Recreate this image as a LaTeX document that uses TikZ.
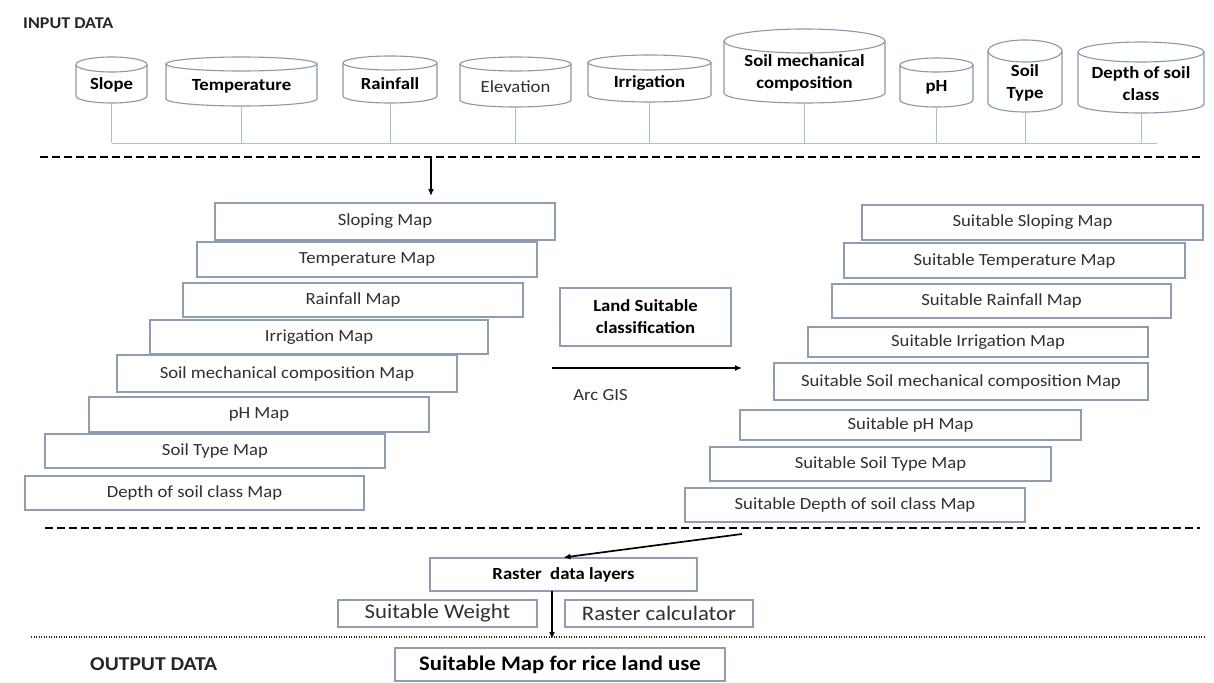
\documentclass[tikz,border=0pt]{standalone}
\usepackage{fontspec}
\setmainfont{Carlito}[FakeStretch=1.1]
\usetikzlibrary{arrows.meta}
\definecolor{boxc}{HTML}{8E9DB2}
\definecolor{cylc}{HTML}{8A98AA}
\definecolor{busc}{HTML}{A8C0DA}
\definecolor{txtc}{HTML}{303030}
\newcommand\fsreg{\fontsize{17}{22}\selectfont}
\newcommand\fsbig{\fontsize{20.7}{24}\selectfont}
\tikzset{
  mapbox/.style={draw=boxc, line width=1.1pt, inner sep=0pt, text=txtc, font=\fsreg},
  boldbox/.style={draw=boxc, line width=1.1pt, inner sep=0pt, text=black, font=\fsreg\bfseries, align=center},
  cylout/.style={draw=cylc, line width=1.1pt},
  cyltxt/.style={text=black, font=\fsreg\bfseries, align=center, inner sep=0pt},
  bus/.style={draw=busc, line width=1pt},
  dashline/.style={draw=black, line width=2.6pt, dash pattern=on 8pt off 4pt},
  dotline/.style={draw=black!85, line width=2.6pt, dash pattern=on 1.2pt off 1.3pt},
  arr/.style={draw=black, line width=1.7pt, -{Latex[length=7pt,width=6pt]}},
  plain/.style={inner sep=0pt}
}
% name, xl, xr, ytop, ybot, ry top, ry bottom, text, text style
\newcommand\cylnode[9]{%
  \pgfmathsetmacro\cxm{(#2+#3)/2}%
  \pgfmathsetmacro\rxm{(#3-#2)/2}%
  \pgfmathsetmacro\cym{(#4+#5)/2}%
  \pgfmathsetmacro\wdm{#3-#2}%
  \pgfmathsetmacro\htm{#5-#4}%
  \pgfmathsetmacro\tym{(#4+#6+#5)/2+1}%
  \node[plain, minimum width=\wdm pt, minimum height=\htm pt] (#1) at (\cxm,\cym) {};
  \draw[cylout] (\cxm,#4+#6) ellipse [x radius=\rxm pt, y radius=#6pt];
  \draw[cylout] (#2,#4+#6) -- (#2,#5-#7) arc [start angle=180, end angle=360, x radius=\rxm pt, y radius=#7pt] -- (#3,#4+#6);
  \node[cyltxt, #9] (#1-t) at (\cxm,\tym) {#8};
}
\begin{document}
\begin{tikzpicture}[x=1pt,y=-1pt]
\useasboundingbox[fill=white] (0,0) rectangle (1214,682);

% titles
\node[plain, anchor=west, font=\fontsize{16.4}{19}\selectfont\bfseries, text=black!85] (inp) at (23,23) {INPUT DATA};
\node[plain, anchor=west, font=\fontsize{19.6}{23}\selectfont\bfseries, text=black!85] (outp) at (90,664) {OUTPUT DATA};

% cylinders
\cylnode{slope}{76}{147}{57}{103}{7.5}{7}{Slope}{}
\cylnode{temp}{166}{317}{57}{106}{7}{7}{Temperature}{}
\cylnode{rain}{343}{437}{56}{103}{7}{7}{Rainfall}{}
\cylnode{elev}{460}{571}{57}{107}{7}{7}{Elevation}{font=\fsreg, text=txtc}
\cylnode{irr}{588}{711}{55}{102}{7.5}{7}{Irrigation}{}
\cylnode{smc}{724}{885}{29}{103}{12}{10}{Soil mechanical\\composition}{}
\cylnode{ph}{900}{973}{58}{107}{7}{7}{pH}{}
\cylnode{stype}{988}{1062}{40}{112}{11}{9}{Soil\\Type}{}
\cylnode{depth}{1078}{1204}{42}{113}{10}{9}{Depth of soil\\class}{}

% bus
\coordinate (busL) at (112,143);
\coordinate (busR) at (1157,143);
\draw[bus] (busL) -- (busR);
\foreach \n in {slope,temp,rain,elev,irr,smc,ph,stype,depth}{
  \draw[bus] (\n.south) -- (\n.south |- busL);
}

% dashed separators
\coordinate (d1L) at (40,157); \coordinate (d1R) at (1202,157);
\draw[dashline] (d1L) -- (d1R);
\coordinate (d2L) at (45,528); \coordinate (d2R) at (1200,528);
\draw[dashline] (d2L) -- (d2R);
\coordinate (d3L) at (31,637); \coordinate (d3R) at (1205,637);
\draw[dotline] (d3L) -- (d3R);

% left maps
\node[mapbox, minimum width=340pt, minimum height=37pt] (m1) at (385,221.5) {Sloping Map};
\node[mapbox, minimum width=340pt, minimum height=35pt] (m2) at (367,259.5) {Temperature Map};
\node[mapbox, minimum width=340pt, minimum height=34pt] (m3) at (353,300) {Rainfall Map};
\node[mapbox, minimum width=338pt, minimum height=34pt] (m4) at (319,337) {Irrigation Map};
\node[mapbox, minimum width=340pt, minimum height=37pt] (m5) at (287,373.5) {Soil mechanical composition Map};
\node[mapbox, minimum width=340pt, minimum height=35pt] (m6) at (259,414.5) {pH Map};
\node[mapbox, minimum width=340pt, minimum height=34pt] (m7) at (215,451) {Soil Type Map};
\node[mapbox, minimum width=339pt, minimum height=34pt] (m8) at (194.5,493) {Depth of soil class Map};

% right maps
\node[mapbox, minimum width=341pt, minimum height=35pt] (s1) at (1032.5,222.5) {Suitable Sloping Map};
\node[mapbox, minimum width=341pt, minimum height=35pt] (s2) at (1014.5,260.5) {Suitable Temperature Map};
\node[mapbox, minimum width=339pt, minimum height=34pt] (s3) at (1001.5,301) {Suitable Rainfall Map};
\node[mapbox, minimum width=340pt, minimum height=30pt] (s4) at (978,342) {Suitable Irrigation Map};
\node[mapbox, minimum width=374pt, minimum height=37pt] (s5) at (961,381.5) {Suitable Soil mechanical composition Map};
\node[mapbox, minimum width=341pt, minimum height=30pt] (s6) at (910.5,425) {Suitable pH Map};
\node[mapbox, minimum width=341pt, minimum height=34pt] (s7) at (880.5,464) {Suitable Soil Type Map};
\node[mapbox, minimum width=340pt, minimum height=34pt] (s8) at (855,505) {Suitable Depth of soil class Map};

% middle
\node[boldbox, minimum width=171pt, minimum height=58pt] (land) at (645.5,317) {Land Suitable\\classification};
\coordinate (arcS) at (552,368); \coordinate (arcE) at (742,368);
\draw[arr] (arcS) -- (arcE);
\node[plain, font=\fsreg, text=txtc] (arcgis) at (600.5,395) {Arc GIS};

% top arrow
\coordinate (a1s) at (431,158); \coordinate (a1e) at (431,196);
\draw[arr] (a1s) -- (a1e);

% bottom part
\node[boldbox, minimum width=267pt, minimum height=33pt] (raster) at (563.5,574.5) {Raster\ \ data layers};
\node[mapbox, font=\fsbig, minimum width=199pt, minimum height=27pt] (weight) at (437.5,613.5) {Suitable Weight};
\node[mapbox, font=\fsbig, minimum width=188pt, minimum height=27pt] (calc) at (659,613.5) {Raster calculator};
\node[boldbox, font=\fsbig\bfseries, minimum width=330pt, minimum height=33pt] (final) at (560,664.5) {Suitable Map for rice land use};

\coordinate (diagS) at (742,534);
\draw[arr] (diagS) -- (raster.north);
\coordinate (vs) at (552,591); \coordinate (ve) at (552,639);
\draw[arr] (vs) -- (ve);
\end{tikzpicture}
\end{document}
